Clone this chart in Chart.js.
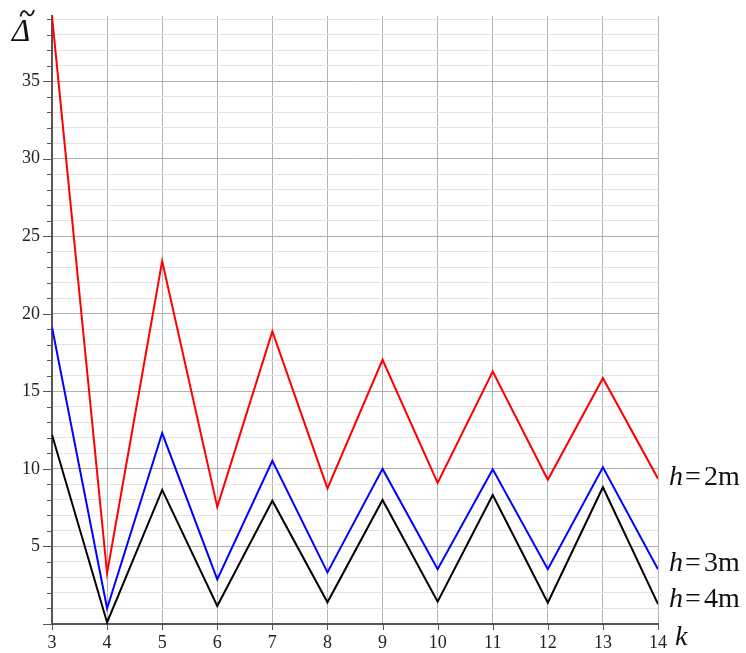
<!DOCTYPE html>
<html>
<head>
<meta charset="utf-8">
<script src="https://cdn.jsdelivr.net/npm/chart.js@4/dist/chart.umd.min.js"></script>
<style>
  html, body { margin: 0; padding: 0; background: #ffffff; }
  #wrap { width: 746px; height: 653px; }
</style>
</head>
<body>
<div id="wrap"><canvas id="c" width="746" height="653"></canvas></div>
<script>
// k values (x axis)
const kValues = [3, 4, 5, 6, 7, 8, 9, 10, 11, 12, 13, 14];
// series values
const h2m = [39.2, 3.27, 23.4, 7.55, 18.86, 8.74, 17.03, 9.1, 16.28, 9.3, 15.85, 9.37];
const h3m = [19.14, 1.0, 12.31, 2.88, 10.52, 3.33, 10.0, 3.53, 9.98, 3.53, 10.1, 3.53];
const h4m = [12.2, 0.1, 8.65, 1.16, 7.95, 1.4, 8.0, 1.44, 8.32, 1.37, 8.82, 1.29];
const seriesNames = ['h=2m', 'h=3m', 'h=4m'];
const seriesColors = ['#ff0000', '#0000ff', '#000000'];
const yTickLabels = [5, 10, 15, 20, 25, 30, 35];
const xTickLabels = kValues;

const serif = '"Liberation Serif", "DejaVu Serif", serif';

function toPoints(arr) { return kValues.map((k, i) => ({ x: k, y: arr[i] })); }

const labelPlugin = {
  id: 'labels',
  afterDraw(chart) {
    const ctx = chart.ctx;
    const xs = chart.scales.x, ys = chart.scales.y;
    const area = chart.chartArea;
    ctx.save();
    // minor/major tick marks on y axis
    ctx.strokeStyle = '#555';
    ctx.lineWidth = 1;
    for (let v = 0; v <= 39; v++) {
      const py = Math.round(ys.getPixelForValue(v)) + 0.5;
      const len = (v % 5 === 0) ? 9 : 5;
      ctx.beginPath();
      ctx.moveTo(area.left - len, py);
      ctx.lineTo(area.left, py);
      ctx.stroke();
    }
    // tick marks on x axis
    for (const k of kValues) {
      const px = Math.round(xs.getPixelForValue(k)) + 0.5;
      ctx.beginPath();
      ctx.moveTo(px, area.bottom);
      ctx.lineTo(px, area.bottom + 6);
      ctx.stroke();
    }
    // axis title: Delta with tilde
    ctx.fillStyle = '#111';
    ctx.textBaseline = 'alphabetic';
    ctx.textAlign = 'left';
    ctx.font = 'italic 31px ' + serif;
    ctx.fillText('\u0394', 12, 41);
    ctx.strokeStyle = '#111';
    ctx.lineWidth = 1.8;
    ctx.beginPath();
    ctx.moveTo(20.5, 16.5);
    ctx.bezierCurveTo(22, 10, 25, 10, 27, 13);
    ctx.bezierCurveTo(29, 16.5, 32, 16.5, 34, 10);
    ctx.stroke();
    // k label
    ctx.font = 'italic 28px ' + serif;
    ctx.fillText('k', 675, 645);
    // series labels at the line ends
    const series = [h2m, h3m, h4m];
    const offs = [6, 2, 3];
    series.forEach((arr, i) => {
      const last = arr[arr.length - 1];
      const by = ys.getPixelForValue(last) + offs[i];
      const x0 = area.right + 11;
      const parts = seriesNames[i].split('=');
      ctx.font = 'italic 28px ' + serif;
      ctx.fillText(parts[0], x0, by);
      ctx.font = '28px ' + serif;
      ctx.fillText('=', x0 + 16, by);
      ctx.fillText(parts[1], x0 + 35, by);
    });
    ctx.restore();
  }
};

new Chart(document.getElementById('c'), {
  type: 'line',
  data: {
    datasets: [h2m, h3m, h4m].map((arr, i) => ({
      label: seriesNames[i],
      data: toPoints(arr),
      borderColor: seriesColors[i],
      backgroundColor: seriesColors[i],
      borderWidth: 2,
      pointRadius: 0,
      tension: 0,
      fill: false
    }))
  },
  options: {
    responsive: false,
    animation: false,
    devicePixelRatio: 1,
    layout: { padding: { top: 16, right: 88, left: 0, bottom: 0 } },
    plugins: { legend: { display: false }, tooltip: { enabled: false }, title: { display: false } },
    scales: {
      x: {
        type: 'linear',
        min: 3, max: 14,
        afterFit(s) { s.height = 29; s.paddingLeft = 0; s.paddingRight = 0; },
        afterBuildTicks(s) { s.ticks = xTickLabels.map(v => ({ value: v })); },
        ticks: {
          autoSkip: false,
          maxRotation: 0,
          padding: 8,
          color: '#222',
          font: { family: serif, size: 18 },
          callback: v => String(v)
        },
        grid: { color: '#b4b4b4', lineWidth: 1, drawTicks: false },
        border: { display: true, color: '#555', width: 2 }
      },
      y: {
        type: 'linear',
        min: 0, max: 39.2,
        afterFit(s) { s.width = 52; s.paddingTop = 0; s.paddingBottom = 0; },
        afterBuildTicks(s) {
          const t = [];
          for (let v = 0; v <= 39; v++) t.push({ value: v });
          s.ticks = t;
        },
        ticks: {
          autoSkip: false,
          padding: 12,
          color: '#222',
          font: { family: serif, size: 18 },
          callback: v => (yTickLabels.includes(v) ? String(v) : '')
        },
        grid: {
          drawTicks: false,
          lineWidth: 1,
          color: ctx => (ctx.tick && ctx.tick.value % 5 === 0 && ctx.tick.value !== 0) ? '#b0b0b0' : '#e3e3e3'
        },
        border: { display: true, color: '#555', width: 2 }
      }
    }
  },
  plugins: [labelPlugin]
});
</script>
</body>
</html>
